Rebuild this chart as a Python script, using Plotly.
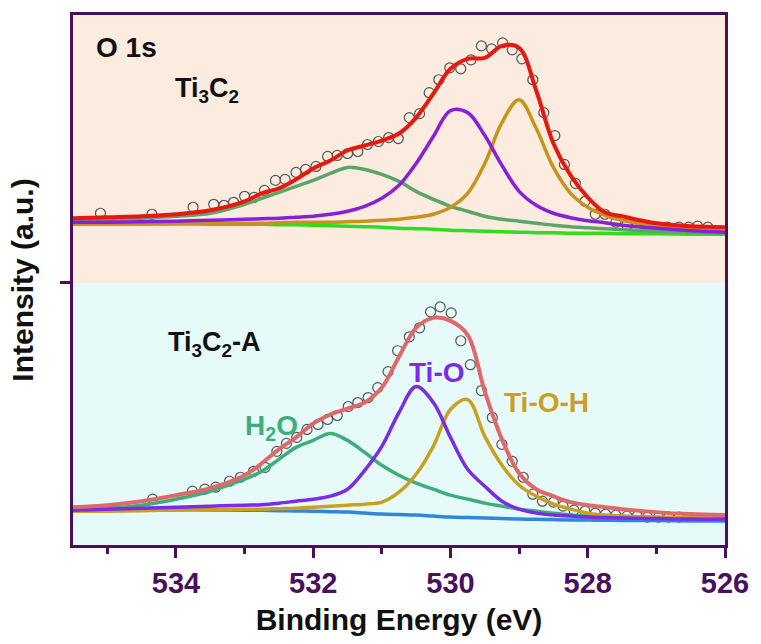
import plotly.graph_objects as go

# ---------------- data ----------------
# common energy grid for fitted curves (eV)
E_GRID = [535.5, 535.0, 534.5, 534.0, 533.5, 533.0, 532.75, 532.5, 532.25, 532.0,
          531.75, 531.5, 531.25, 531.0, 530.75, 530.5, 530.25, 530.0, 529.75, 529.5,
          529.25, 529.0, 528.75, 528.5, 528.25, 528.0, 527.75, 527.5, 527.0, 526.5, 526.0]

# Ti3C2 (upper spectrum, stacked intensity in a.u.)
top_envelope = [328, 329, 330, 332, 336, 345, 353, 358, 367, 378, 386, 396, 401, 406, 413, 429,
                453, 478, 488, 489, 501, 499, 456, 403, 371, 349, 334, 330, 323, 320, 319]
top_h2o = [326, 327, 328, 330, 333, 342, 348, 354, 360, 366, 373, 379, 377, 372, 365, 355,
           347, 340, 335, 330, 327, 325, 323, 321, 319.5, 318.5, 317.5, 316.5, 315, 314, 313]
top_tio = [324, 324, 324.5, 325, 326, 327, 327.5, 328, 329, 330, 332, 335, 340, 348, 361, 383,
           410, 436, 434, 411, 381, 355, 341, 333, 328.5, 325.5, 323.5, 321, 318, 315.5, 314]
top_tioh = [322, 322, 322, 322.5, 323, 323, 323, 323.5, 324, 324, 324, 324.5, 325, 326, 327, 329,
            332, 339, 353, 383, 424, 447, 418, 379, 353, 339, 331, 326, 320.5, 317.5, 315]
top_bg = [323, 323, 322.5, 322.5, 322, 322, 322, 321.5, 321.5, 321, 320.5, 320, 319.5, 319, 318,
          317.5, 317, 316, 315.5, 315, 314.5, 314, 313.5, 313.5, 313, 313, 313, 312.5, 312.5, 312, 312]

top_data_E = [535.10, 534.35, 533.75, 533.45, 533.30, 533.16, 533.00, 532.86, 532.71, 532.55,
              532.41, 532.25, 532.11, 531.96, 531.79, 531.65, 531.50, 531.35, 531.21, 531.05,
              530.90, 530.76, 530.60, 530.45, 530.31, 530.17, 530.01, 529.85, 529.70, 529.55,
              529.40, 529.24, 529.10, 528.96, 528.80, 528.64, 528.48, 528.34, 528.18, 528.04,
              527.89, 527.75, 527.59, 527.43, 527.29, 527.14, 526.98, 526.84, 526.67, 526.53,
              526.40, 526.25]
top_data_I = [333, 332, 339, 342, 341, 344, 350, 349, 356, 366, 367, 374, 377, 380, 390, 391,
              393, 395, 402, 405, 409, 408, 429, 433, 454, 467, 479, 478, 487, 501, 498, 504,
              497, 488, 467, 434, 411, 382, 363, 345, 332, 332, 324, 321, 319, 319, 319, 319,
              319, 319, 320, 319]

# Ti3C2-A (lower spectrum)
bot_envelope = [38, 40, 44, 50, 57, 70, 82, 96, 108, 122, 131, 137, 143, 158, 189, 218,
                228, 225, 211, 154, 106, 72, 56, 49, 43, 40, 38, 36, 33, 31, 30]
bot_h2o = [36, 37, 40, 46, 54, 66, 74, 86, 98, 105, 112, 105, 93, 80, 70, 62,
           56, 50, 46, 42, 39, 36, 34, 32, 30, 29, 28.5, 28, 27.5, 27, 27]
bot_tio = [35, 36, 37, 38, 39, 40, 40.5, 42, 44, 46, 49, 56, 75, 99, 133, 159,
           143, 108, 76, 59, 44, 36, 32, 30, 29, 28, 27.5, 27, 26.5, 26, 26]
bot_tioh = [34, 34, 34.5, 35, 35.5, 36, 36, 36.5, 37, 38, 39, 40, 41, 43, 53, 71,
            99, 136, 146, 109, 80, 60, 49, 41, 36, 32, 30, 29, 28, 27.5, 27]
bot_bg = [36, 36, 35.8, 35.5, 35.2, 35, 34.8, 34.5, 34.2, 34, 33.5, 33, 32, 31, 30.5, 30,
          29, 28, 27.5, 27, 26.5, 26, 25.8, 25.5, 25.2, 25, 24.8, 24.6, 24.5, 24.2, 24]

bot_data_E = [534.34, 533.76, 533.58, 533.42, 533.22, 533.06, 532.87, 532.70, 532.53, 532.39,
              532.24, 532.09, 531.93, 531.79, 531.65, 531.49, 531.35, 531.20, 531.06, 530.91,
              530.77, 530.60, 530.45, 530.29, 530.15, 529.99, 529.85, 529.71, 529.55, 529.39,
              529.25, 529.10, 528.94, 528.80, 528.66, 528.50, 528.36, 528.20, 528.04, 527.89,
              527.74, 527.59, 527.43, 527.28, 527.13, 526.97, 526.82, 526.67]
bot_data_I = [46, 54, 56, 58, 64, 68, 74, 78, 94, 102, 108, 116, 121, 126, 130, 139, 143, 148,
              158, 174, 195, 209, 218, 234, 239, 233, 205, 181, 155, 128, 101, 84, 68, 51, 44,
              43, 39, 35, 34, 32, 31, 30, 29, 29, 28, 28, 28, 28]

X_TICKS = [534, 532, 530, 528, 526]
X_RANGE = [535.5, 526.0]
Y_RANGE = [0, 532]
PANEL_SPLIT = 263

# ---------------- style ----------------
FONT = "Arial, 'Liberation Sans', sans-serif"
FRAME = "#4a0f5e"
TOP_BG = "#fcecdf"
BOT_BG = "#e6fafa"

fig = go.Figure()

def add_line(x, y, color, width=3.5):
    fig.add_trace(go.Scatter(x=x, y=y, mode="lines",
                             line=dict(color=color, width=width, shape="spline", smoothing=1.0),
                             hoverinfo="skip", showlegend=False))

def add_points(x, y):
    fig.add_trace(go.Scatter(x=x, y=y, mode="markers",
                             marker=dict(symbol="circle-open", size=10, color="#555555",
                                         line=dict(width=1.2, color="#555555")),
                             showlegend=False))

# upper spectrum
add_points(top_data_E, top_data_I)
add_line(E_GRID, top_bg, "#2fdc1e")
add_line(E_GRID, top_h2o, "#5aa56b")
add_line(E_GRID, top_tioh, "#c8921c")
add_line(E_GRID, top_tio, "#8a20d6")
add_line(E_GRID, top_envelope, "#e8180e", 4)

# lower spectrum
add_points(bot_data_E, bot_data_I)
add_line(E_GRID, bot_bg, "#2f86dc")
add_line(E_GRID, bot_h2o, "#3dae7a")
add_line(E_GRID, bot_tioh, "#c9a020")
add_line(E_GRID, bot_tio, "#7a2ce6")
add_line(E_GRID, bot_envelope, "#e06868", 4)

# panel backgrounds
fig.add_shape(type="rect", xref="paper", yref="y", x0=0, x1=1, y0=PANEL_SPLIT, y1=Y_RANGE[1],
              fillcolor=TOP_BG, line=dict(width=0), layer="below")
fig.add_shape(type="rect", xref="paper", yref="y", x0=0, x1=1, y0=Y_RANGE[0], y1=PANEL_SPLIT,
              fillcolor=BOT_BG, line=dict(width=0), layer="below")

def label(text, x, y, color, xanchor="left", size=28):
    fig.add_annotation(x=x, y=y, xref="x", yref="y", text=text, showarrow=False,
                       xanchor=xanchor, yanchor="middle",
                       font=dict(family=FONT, size=size, color=color, weight="bold"))

label("O 1s", 535.19, 499, "#111111")
label("Ti<sub>3</sub>C<sub>2</sub>", 534.04, 457, "#111111", size=27)
label("Ti<sub>3</sub>C<sub>2</sub>-A", 534.15, 202, "#111111", size=27)
label("H<sub>2</sub>O", 533.03, 118, "#3dae7a")
label("Ti-O", 530.20, 173, "#7a2ce6", xanchor="center")
label("Ti-O-H", 528.60, 143, "#c9a020", xanchor="center")

fig.update_layout(
    width=761, height=644,
    margin=dict(l=73, r=28, t=14, b=98),
    paper_bgcolor="white",
    plot_bgcolor=BOT_BG,
    showlegend=False,
    font=dict(family=FONT),
)

fig.update_xaxes(
    range=X_RANGE, tickvals=X_TICKS, ticktext=[str(t) for t in X_TICKS],
    ticks="outside", ticklen=10, tickwidth=3, tickcolor=FRAME,
    minor=dict(dtick=1, ticks="outside", ticklen=6, tickwidth=3, tickcolor=FRAME),
    showline=True, linewidth=3, linecolor=FRAME, mirror=True,
    showgrid=False, zeroline=False,
    tickfont=dict(family=FONT, size=29, color=FRAME, weight="bold"),
    title=dict(text="Binding Energy (eV)", standoff=12,
               font=dict(family=FONT, size=30, color="#111111", weight="bold")),
)
fig.update_yaxes(
    range=Y_RANGE, tickvals=[PANEL_SPLIT], showticklabels=False,
    ticks="outside", ticklen=10, tickwidth=3, tickcolor=FRAME,
    showline=True, linewidth=3, linecolor=FRAME, mirror=True,
    showgrid=False, zeroline=False,
    title=dict(text="Intensity (a.u.)", standoff=18,
               font=dict(family=FONT, size=30, color="#111111", weight="bold")),
)

fig.write_html("out.html")
